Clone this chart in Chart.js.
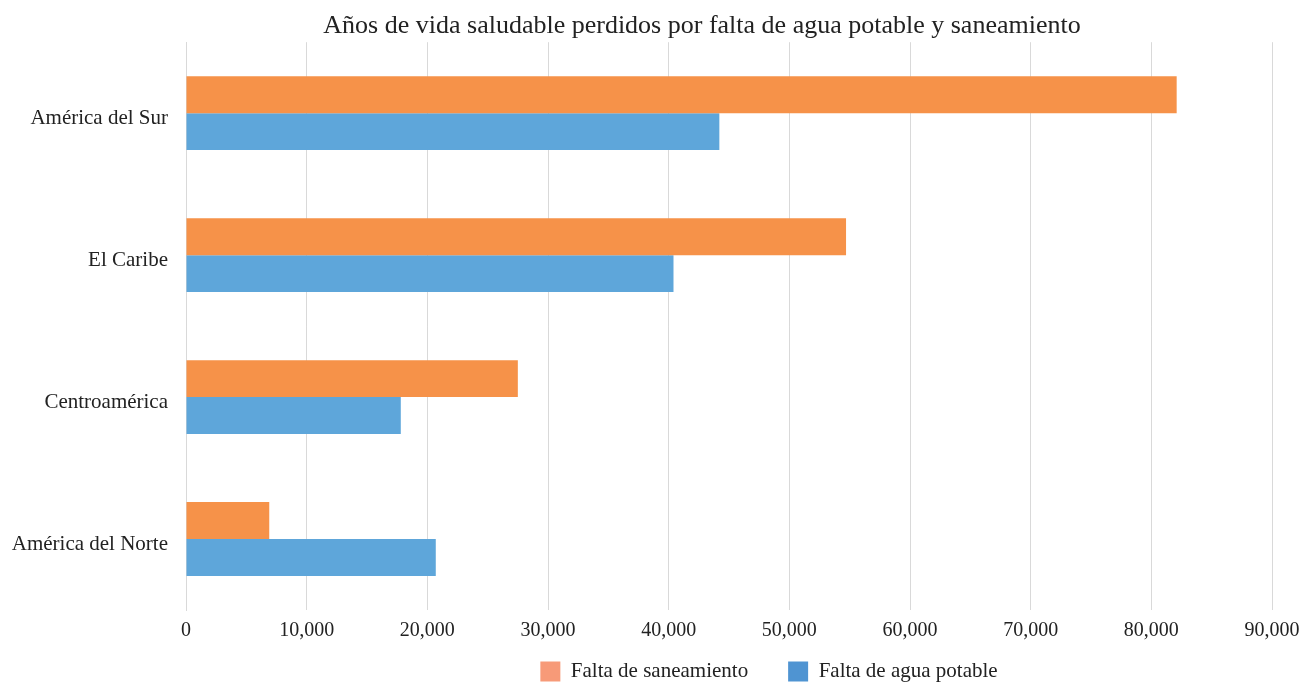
<!DOCTYPE html>
<html>
<head>
<meta charset="utf-8">
<script src="https://cdn.jsdelivr.net/npm/chart.js@4"></script>
<style>
  html, body { margin: 0; padding: 0; background: #fff; }
  #wrap { width: 1313px; height: 682px; }
</style>
</head>
<body>
<div id="wrap"><canvas id="chartAgua"></canvas></div>
<script>
    const regiones = ['América del Sur', 'El Caribe', 'Centroamérica', 'América del Norte'];
    const saneamiento = [82100, 54700, 27500, 6900];
    const aguaPotable = [44200, 40400, 17800, 20700];
    const ticksX = [0, 10000, 20000, 30000, 40000, 50000, 60000, 70000, 80000, 90000];

    const fuente = "'Liberation Serif', 'DejaVu Serif', serif";
    Chart.defaults.font.family = fuente;
    Chart.defaults.color = '#222';

    // colores del recuadro de la leyenda (más claros que las barras)
    const colorLeyenda = ['#F79A78', '#4F94D2'];

    // título y leyenda no van centrados en el lienzo: se recolocan tras el layout
    const recolocar = {
        id: 'recolocar',
        afterLayout(chart) {
            const t = chart.titleBlock;
            t.left += 61; t.right += 61;
            const lg = chart.legend;
            lg.left += 128; lg.right += 128;
            lg.top -= 24;
        }
    };

    const ctx = document.getElementById('chartAgua').getContext('2d');
    new Chart(ctx, {
        type: 'bar',
        data: {
            labels: regiones,
            datasets: [{
                label: 'Falta de saneamiento',
                data: saneamiento,
                backgroundColor: '#F69249',
                categoryPercentage: 0.52,
                barPercentage: 1.0,
            }, {
                label: 'Falta de agua potable',
                data: aguaPotable,
                backgroundColor: '#5EA6DA',
                categoryPercentage: 0.52,
                barPercentage: 1.0,
            }]
        },
        plugins: [recolocar],
        options: {
            indexAxis: 'y',
            responsive: true,
            maintainAspectRatio: false,
            animation: false,
            layout: { padding: { left: 10, right: 41, top: 0, bottom: 0 } },
            plugins: {
                title: {
                    display: true,
                    text: 'Años de vida saludable perdidos por falta de agua potable y saneamiento',
                    font: { size: 26, weight: 'normal' },
                    color: '#222',
                    padding: { top: 11, bottom: 0 },
                },
                legend: {
                    position: 'bottom',
                    maxHeight: 37,
                    labels: {
                        boxWidth: 20,
                        boxHeight: 20,
                        padding: 40,
                        font: { size: 21 },
                        color: '#222',
                        generateLabels(chart) {
                            return chart.data.datasets.map((ds, i) => ({
                                text: ds.label,
                                fillStyle: colorLeyenda[i],
                                strokeStyle: colorLeyenda[i],
                                lineWidth: 0,
                                datasetIndex: i,
                                fontColor: '#222',
                            }));
                        }
                    }
                },
                tooltip: { enabled: false }
            },
            scales: {
                x: {
                    min: 0,
                    max: 90000,
                    afterBuildTicks(axis) {
                        axis.ticks = ticksX.map(v => ({ value: v }));
                    },
                    afterFit(axis) { axis.height = 35; },
                    ticks: {
                        font: { size: 20 },
                        color: '#222',
                        padding: 9,
                        maxRotation: 0,
                        callback: v => v.toLocaleString('en-US'),
                    },
                    grid: { color: '#D9D9D9', lineWidth: 1, drawTicks: false },
                    border: { display: false },
                },
                y: {
                    afterFit(axis) { axis.width = 176; },
                    ticks: {
                        font: { size: 21 },
                        color: '#222',
                        padding: 18,
                        labelOffset: 5,
                    },
                    grid: { display: false, drawTicks: false },
                    border: { display: true, color: '#D9D9D9' },
                }
            }
        }
    });
</script>
</body>
</html>
